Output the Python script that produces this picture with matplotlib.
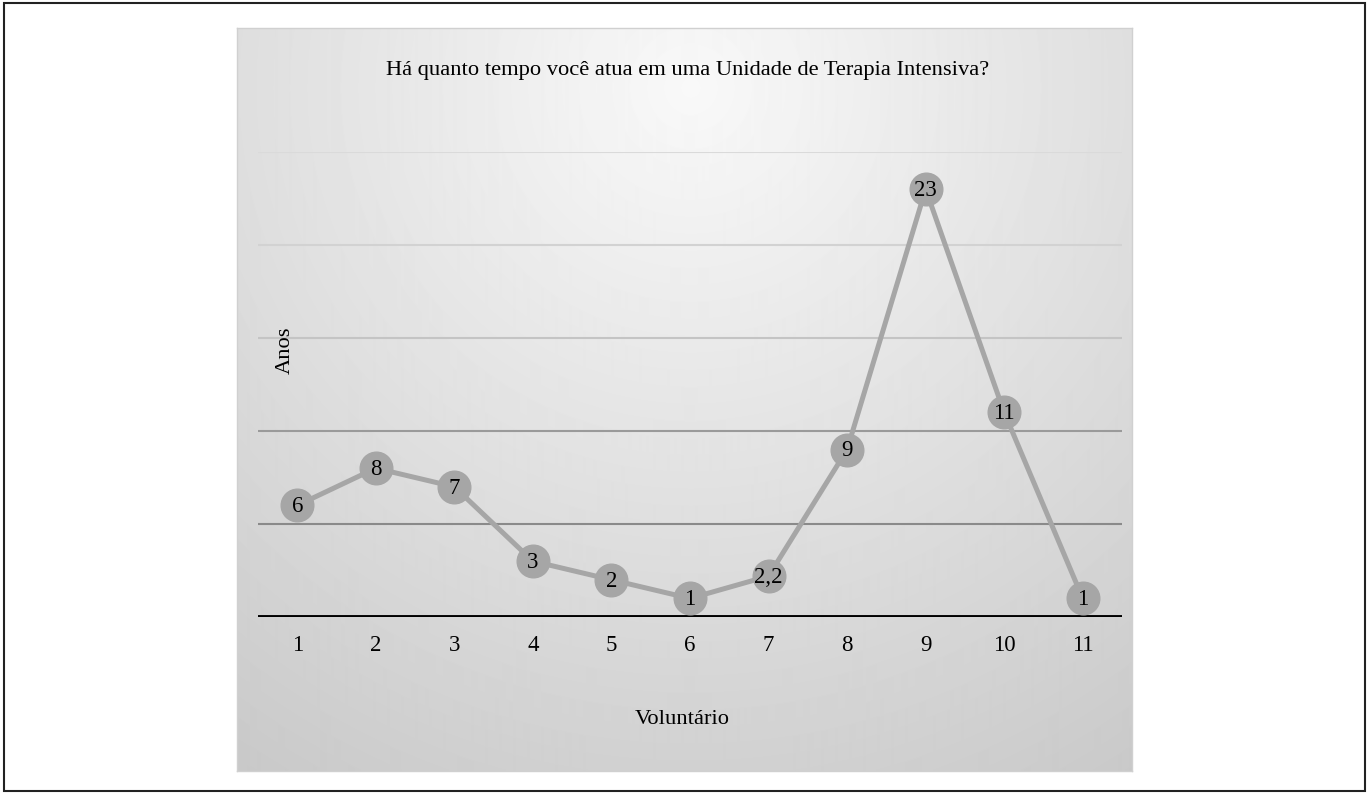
import matplotlib
matplotlib.use('Agg')
import matplotlib.pyplot as plt
import numpy as np
from matplotlib.patches import Rectangle

# data
voluntarios = ["1", "2", "3", "4", "5", "6", "7", "8", "9", "10", "11"]
anos = [6, 8, 7, 3, 2, 1, 2.2, 9, 23, 11, 1]
grid_levels = [5, 10, 15, 20, 25]
grid_colors = ["#8a8a8a", "#9a9a9a", "#c4c4c4", "#d2d2d2", "#dadada"]

plt.rcParams['font.family'] = ['Liberation Serif', 'DejaVu Serif']

fig = plt.figure(figsize=(13.68, 7.94), dpi=100)
W, H = 1368, 794

# outer frame
fig.add_artist(Rectangle((4 / W, 3 / H), 1361 / W, 788 / H, transform=fig.transFigure,
                         fill=False, edgecolor="#222222", linewidth=1.5))

# gradient panel behind the chart
px0, py0, px1, py1 = 237, 28, 1132, 771
bg = fig.add_axes([px0 / W, 1 - py1 / H, (px1 - px0) / W, (py1 - py0) / H])
yy, xx = np.mgrid[0:py1 - py0, 0:px1 - px0]
dist = np.hypot(xx - 453, yy - 60)
shade = 0.975 - dist / 4350.0
bg.imshow(shade, cmap="gray", vmin=0, vmax=1, aspect="auto", interpolation="bilinear")
bg.set_xticks([])
bg.set_yticks([])
for s in bg.spines.values():
    s.set_color("#d0d0d0")
    s.set_linewidth(1)

# main axes
ax = fig.add_axes([258 / W, 1 - 617 / H, (1122 - 258) / W, (617 - 152) / H])
ax.set_facecolor("none")
x = np.arange(len(anos))
ax.set_xlim(-0.5, len(anos) - 0.5)
ax.set_ylim(0, 25)

for lvl, c in zip(grid_levels, grid_colors):
    ax.axhline(lvl, color=c, linewidth=1.5, zorder=1)
ax.axhline(0, color="black", linewidth=2.8, zorder=2)

ax.plot(x, anos, color="#a6a6a6", linewidth=3.6, marker="o", markersize=23.5,
        markerfacecolor="#a6a6a6", markeredgecolor="#a6a6a6", zorder=3, clip_on=False)
for xi, v in zip(x, anos):
    lbl = f"{v:g}".replace(".", ",")
    ax.annotate(lbl, (xi, v), xytext=(0, -1), textcoords="offset points",
                ha="center", va="center", fontsize=16.5, color="black", zorder=4)

ax.set_xticks(x)
ax.set_xticklabels(voluntarios, fontsize=16.5)
ax.tick_params(axis="x", length=0, pad=13)
ax.set_yticks([])
for s in ax.spines.values():
    s.set_visible(False)

fig.text(688 / W, 1 - 70 / H, "Há quanto tempo você atua em uma Unidade de Terapia Intensiva?",
         ha="center", va="center", fontsize=16.2)
fig.text(682 / W, 1 - 720 / H, "Voluntário", ha="center", va="center", fontsize=16.2)
fig.text(285 / W, 1 - 350 / H, "Anos", ha="center", va="center", rotation=90, fontsize=16.2)

fig.savefig("out.png", dpi=100)
plt.close(fig)
